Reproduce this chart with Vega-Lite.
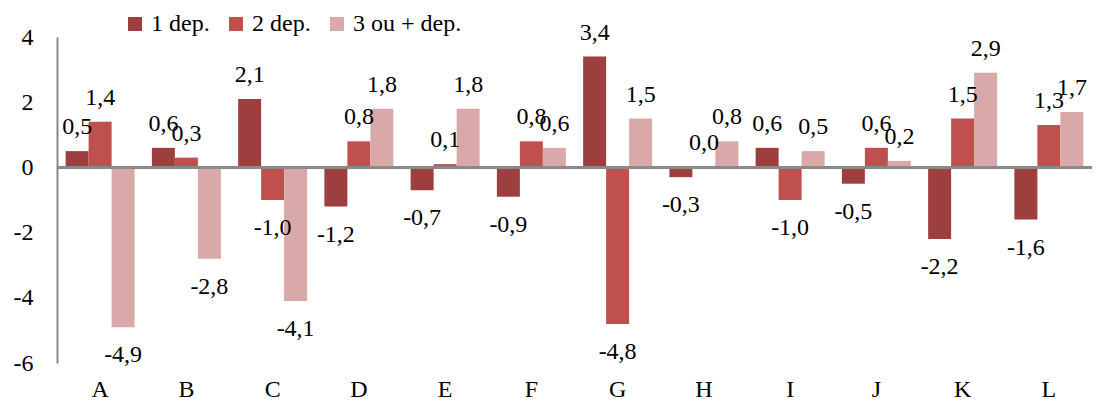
{
  "$schema": "https://vega.github.io/schema/vega-lite/v6.json",
  "autosize": {"type": "none"},
  "padding": {"left": 57, "top": 37, "right": 7, "bottom": 40},
  "width": 1035,
  "height": 326,
  "background": "white",
  "config": {
    "locale": {"number": {"decimal": ",", "thousands": " ", "grouping": [3], "currency": ["", " €"], "minus": "-"}},
    "font": "Times New Roman, Liberation Serif, serif",
    "view": {"stroke": null}
  },
  "data": {
    "values": [
      {"cat": "A", "serie": "1 dep.", "v": 0.5}, {"cat": "A", "serie": "2 dep.", "v": 1.4}, {"cat": "A", "serie": "3 ou + dep.", "v": -4.9},
      {"cat": "B", "serie": "1 dep.", "v": 0.6}, {"cat": "B", "serie": "2 dep.", "v": 0.3}, {"cat": "B", "serie": "3 ou + dep.", "v": -2.8},
      {"cat": "C", "serie": "1 dep.", "v": 2.1}, {"cat": "C", "serie": "2 dep.", "v": -1.0}, {"cat": "C", "serie": "3 ou + dep.", "v": -4.1},
      {"cat": "D", "serie": "1 dep.", "v": -1.2}, {"cat": "D", "serie": "2 dep.", "v": 0.8}, {"cat": "D", "serie": "3 ou + dep.", "v": 1.8},
      {"cat": "E", "serie": "1 dep.", "v": -0.7}, {"cat": "E", "serie": "2 dep.", "v": 0.1}, {"cat": "E", "serie": "3 ou + dep.", "v": 1.8},
      {"cat": "F", "serie": "1 dep.", "v": -0.9}, {"cat": "F", "serie": "2 dep.", "v": 0.8}, {"cat": "F", "serie": "3 ou + dep.", "v": 0.6},
      {"cat": "G", "serie": "1 dep.", "v": 3.4}, {"cat": "G", "serie": "2 dep.", "v": -4.8}, {"cat": "G", "serie": "3 ou + dep.", "v": 1.5},
      {"cat": "H", "serie": "1 dep.", "v": -0.3}, {"cat": "H", "serie": "2 dep.", "v": 0.0}, {"cat": "H", "serie": "3 ou + dep.", "v": 0.8},
      {"cat": "I", "serie": "1 dep.", "v": 0.6}, {"cat": "I", "serie": "2 dep.", "v": -1.0}, {"cat": "I", "serie": "3 ou + dep.", "v": 0.5},
      {"cat": "J", "serie": "1 dep.", "v": -0.5}, {"cat": "J", "serie": "2 dep.", "v": 0.6}, {"cat": "J", "serie": "3 ou + dep.", "v": 0.2},
      {"cat": "K", "serie": "1 dep.", "v": -2.2}, {"cat": "K", "serie": "2 dep.", "v": 1.5}, {"cat": "K", "serie": "3 ou + dep.", "v": 2.9},
      {"cat": "L", "serie": "1 dep.", "v": -1.6}, {"cat": "L", "serie": "2 dep.", "v": 1.3}, {"cat": "L", "serie": "3 ou + dep.", "v": 1.7}
    ]
  },
  "encoding": {
    "x": {
      "field": "cat", "type": "nominal", "title": null,
      "scale": {"paddingInner": 0.2, "paddingOuter": 0.1},
      "axis": {"domain": false, "ticks": false, "labelAngle": 0, "labelFontSize": 24, "labelColor": "#000", "labelPadding": 14, "labelFont": "Times New Roman, Liberation Serif, serif"}
    },
    "xOffset": {"field": "serie", "type": "nominal", "sort": ["1 dep.", "2 dep.", "3 ou + dep."]},
    "y": {
      "field": "v", "type": "quantitative", "title": null,
      "scale": {"domain": [-6, 4], "nice": false, "zero": false},
      "axis": {"values": [-6, -4, -2, 0, 2, 4], "grid": false, "ticks": false, "domain": true, "domainColor": "#898989", "domainWidth": 2, "labelFontSize": 24, "labelColor": "#000", "labelPadding": 24, "labelFont": "Times New Roman, Liberation Serif, serif", "format": "d"}
    }
  },
  "layer": [
    {
      "mark": {"type": "bar"},
      "encoding": {
        "color": {
          "field": "serie", "type": "nominal", "title": null,
          "scale": {"domain": ["1 dep.", "2 dep.", "3 ou + dep."], "range": ["#9E3F3F", "#C0504D", "#D9A9A9"]},
          "legend": {
            "orient": "none", "direction": "horizontal", "legendX": 66, "legendY": -25,
            "symbolType": "square", "symbolSize": 196, "symbolStrokeWidth": 0,
            "labelFontSize": 24, "labelFont": "Times New Roman, Liberation Serif, serif", "labelColor": "#000", "labelOffset": 4,
            "columnPadding": 14, "padding": 0
          }
        }
      }
    },
    {
      "transform": [{"filter": "datum.v >= 0"}],
      "mark": {"type": "text", "baseline": "alphabetic", "align": "center", "dy": -17, "fontSize": 24, "font": "Times New Roman, Liberation Serif, serif", "color": "#000"},
      "encoding": {"text": {"field": "v", "type": "quantitative", "format": ".1f"}}
    },
    {
      "transform": [{"filter": "datum.v < 0"}],
      "mark": {"type": "text", "baseline": "alphabetic", "align": "center", "dy": 35, "fontSize": 24, "font": "Times New Roman, Liberation Serif, serif", "color": "#000"},
      "encoding": {"text": {"field": "v", "type": "quantitative", "format": ".1f"}}
    },
    {
      "mark": {"type": "rule", "color": "#898989", "strokeWidth": 2},
      "encoding": {"y": {"datum": 0}, "x": null, "xOffset": null}
    }
  ]
}
